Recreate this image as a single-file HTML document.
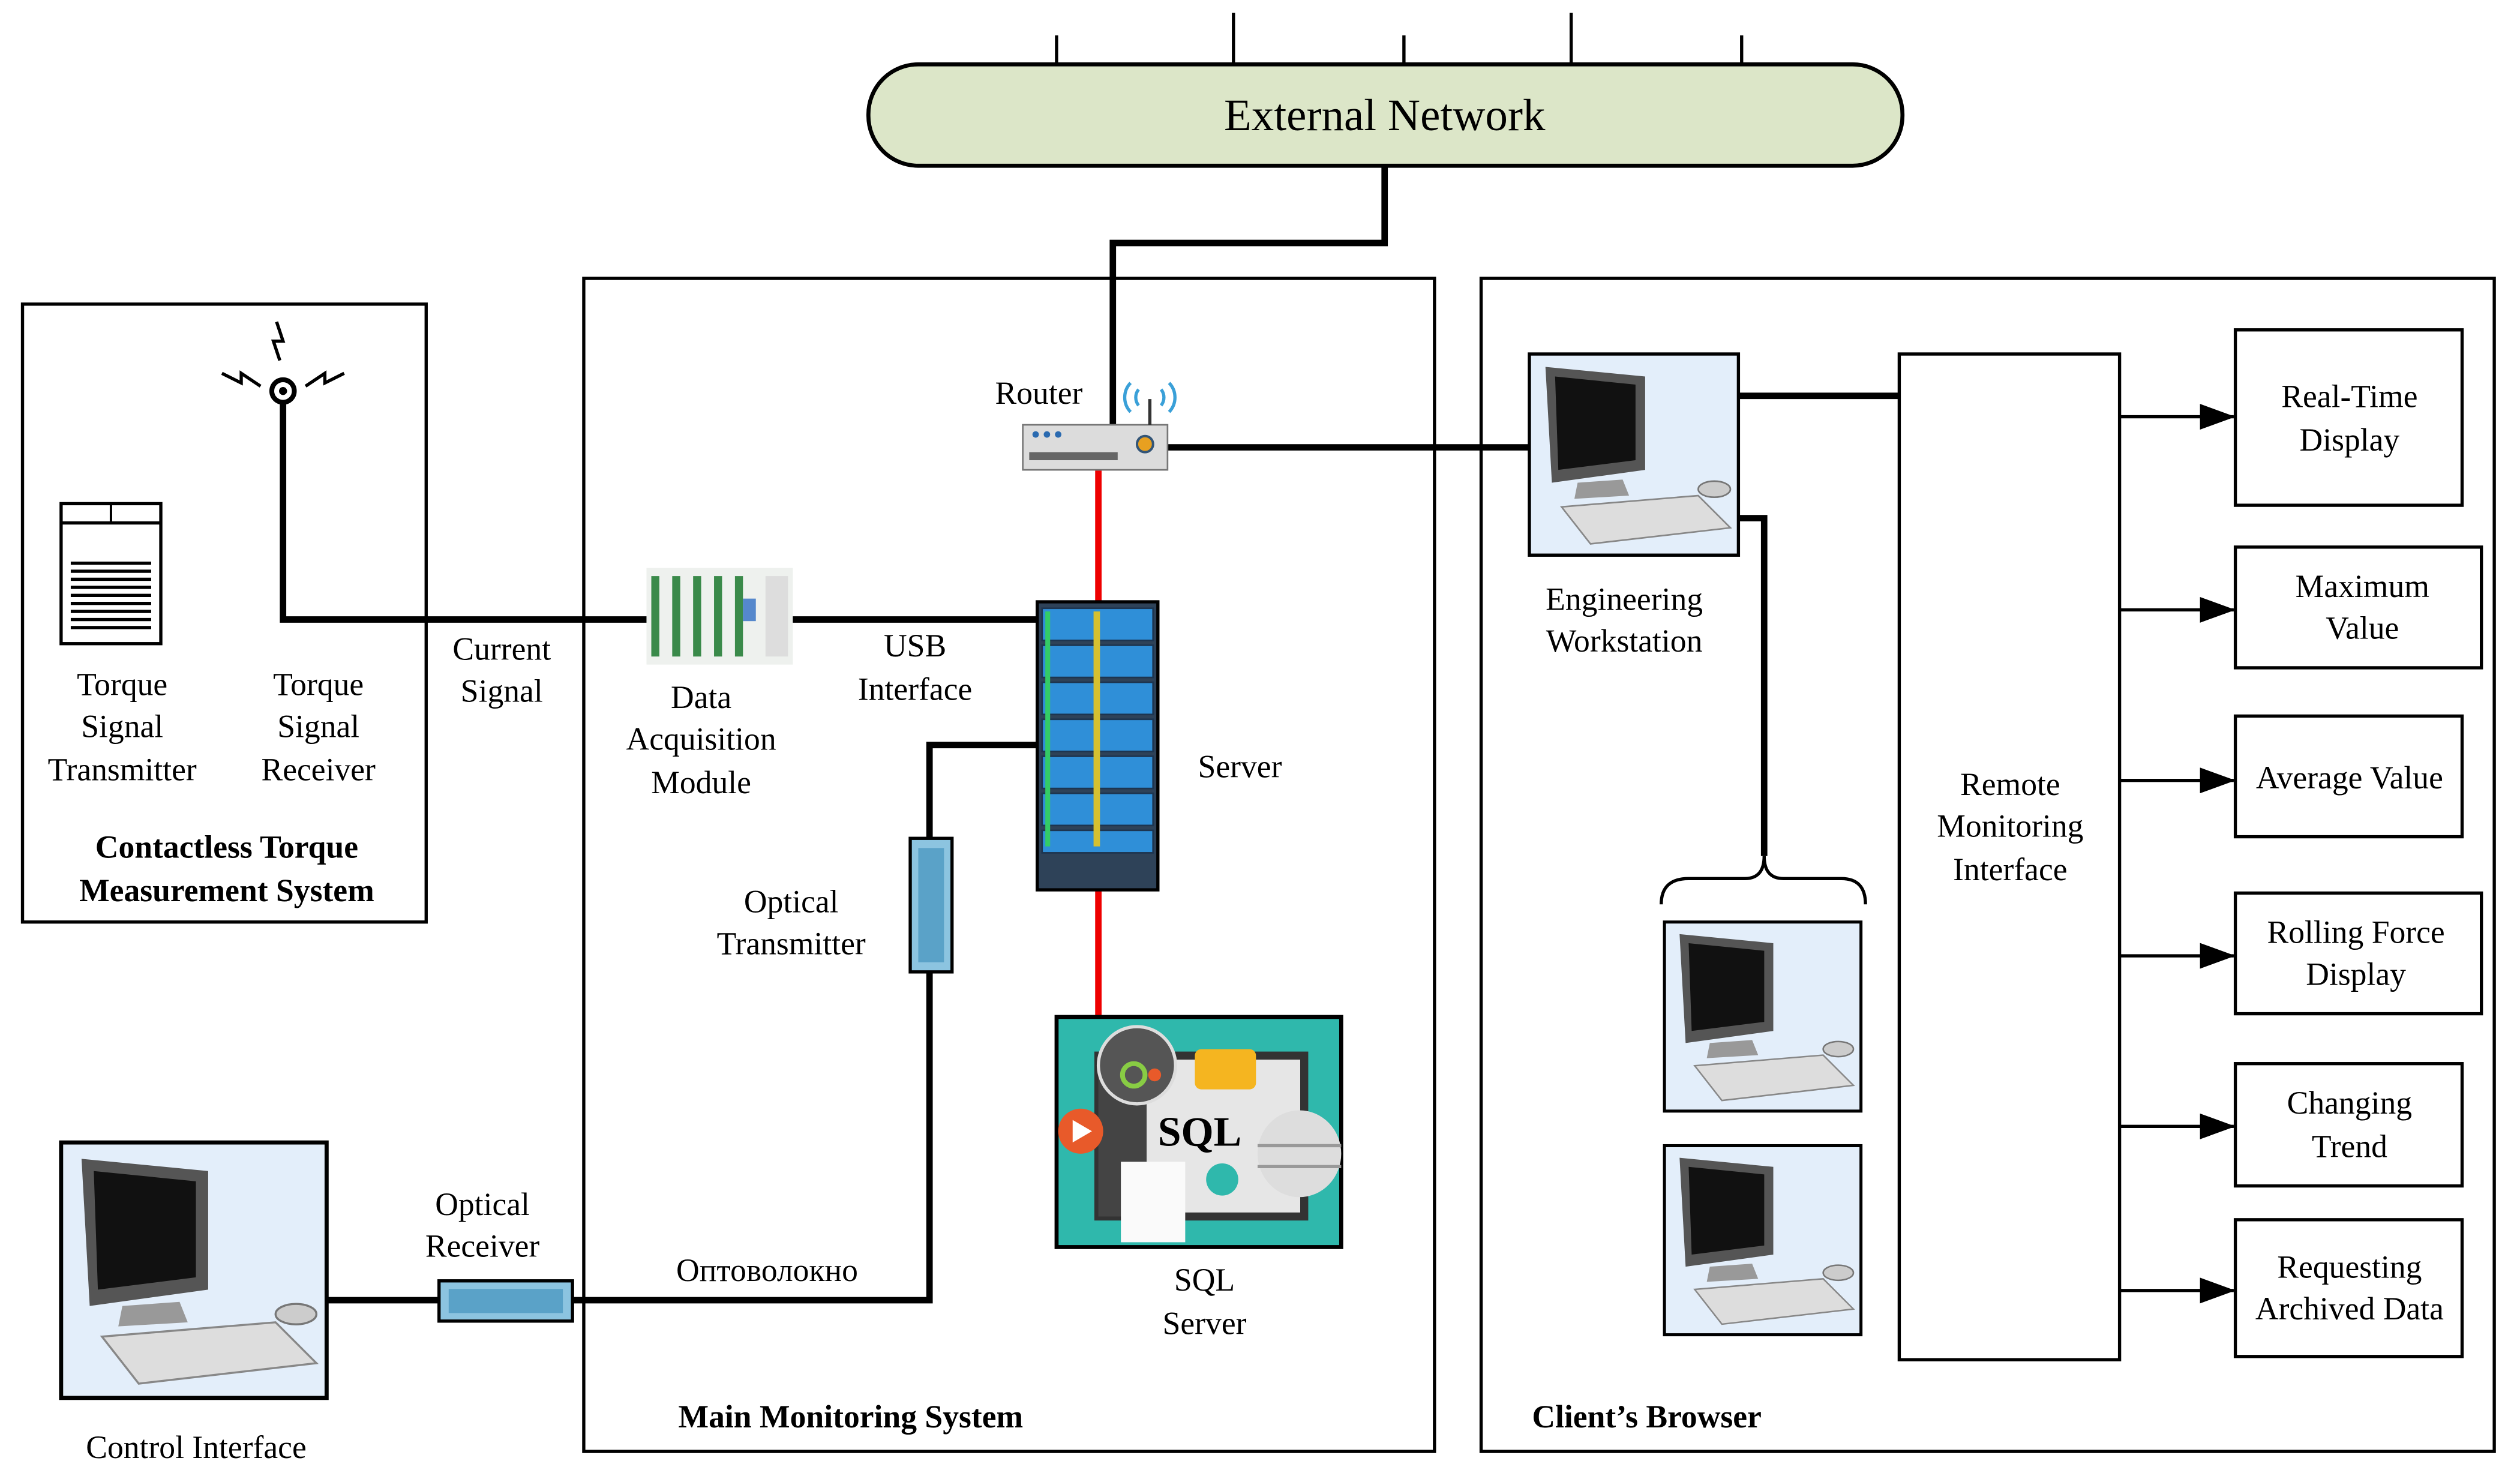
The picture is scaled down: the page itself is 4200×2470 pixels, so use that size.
<!DOCTYPE html>
<html><head><meta charset="utf-8"><style>
html,body{margin:0;padding:0;background:#fff}
svg{display:block}
text{font-family:"Liberation Serif",serif;fill:#000}
</style></head><body>
<svg width="4200" height="2470" viewBox="0 0 1567 921" preserveAspectRatio="none" xmlns="http://www.w3.org/2000/svg">
<defs>
<marker id="ar" markerWidth="22" markerHeight="16" refX="21" refY="8" orient="auto" markerUnits="userSpaceOnUse"><path d="M0,0 L22,8 L0,16 z" fill="#000"/></marker>
<g id="pc">
<rect x="0" y="0" width="130" height="125" fill="#e3eefa" stroke="#000" stroke-width="2"/>
<path d="M10,8 L72,14 L72,72 L14,80 z" fill="#555"/>
<path d="M16,14 L66,19 L66,66 L18,72 z" fill="#111"/>
<path d="M30,80 L58,78 L62,88 L28,90 z" fill="#999"/>
<path d="M20,95 L105,88 L125,108 L38,118 z" fill="#ddd" stroke="#888"/>
<ellipse cx="115" cy="84" rx="10" ry="5" fill="#ccc" stroke="#777"/>
</g>
</defs>

<g stroke="#000" stroke-width="2">
<line x1="657" y1="22" x2="657" y2="40"/><line x1="767" y1="8" x2="767" y2="40"/><line x1="873" y1="22" x2="873" y2="40"/><line x1="977" y1="8" x2="977" y2="40"/><line x1="1083" y1="22" x2="1083" y2="40"/>
</g>
<rect x="540" y="40" width="643" height="63" rx="31" fill="#dce6c8" stroke="#000" stroke-width="2.5"/>
<text x="861" y="81" font-size="28" text-anchor="middle">External Network</text>

<rect x="14" y="189" width="251" height="384" fill="none" stroke="#000" stroke-width="2"/>
<rect x="363" y="173" width="529" height="729" fill="none" stroke="#000" stroke-width="2"/>
<rect x="921" y="173" width="630" height="729" fill="none" stroke="#000" stroke-width="2"/>

<g stroke="#000" stroke-width="4" fill="none">
<polyline points="861,103 861,151 692,151 692,265"/>
<polyline points="176,243 176,385 645,385"/>
<line x1="726" y1="278" x2="951" y2="278"/>
<polyline points="645,463 578,463 578,808 356,808"/>
<line x1="203" y1="808" x2="273" y2="808"/>
<line x1="1081" y1="246" x2="1181" y2="246"/>
<polyline points="1081,322 1097,322 1097,532"/>
</g>
<g stroke="#e00" stroke-width="4"><line x1="683" y1="292" x2="683" y2="375"/><line x1="683" y1="553" x2="683" y2="632"/></g>

<circle cx="176" cy="243" r="7" fill="#fff" stroke="#000" stroke-width="3"/><circle cx="176" cy="243" r="2.5" fill="#000"/>
<g stroke="#000" stroke-width="2" fill="none"><polyline points="172,200 176,212 170,212 174,224"/><polyline points="138,232 150,238 150,232 162,240"/><polyline points="190,240 202,232 202,238 214,232"/></g>

<rect x="38" y="313" width="62" height="87" fill="#fff" stroke="#000" stroke-width="2"/>
<line x1="38" y1="325" x2="100" y2="325" stroke="#000" stroke-width="2"/><line x1="69" y1="313" x2="69" y2="325" stroke="#000" stroke-width="1.5"/>
<g stroke="#000" stroke-width="2"><line x1="44" y1="350" x2="94" y2="350"/><line x1="44" y1="355" x2="94" y2="355"/><line x1="44" y1="360" x2="94" y2="360"/><line x1="44" y1="365" x2="94" y2="365"/><line x1="44" y1="370" x2="94" y2="370"/><line x1="44" y1="375" x2="94" y2="375"/><line x1="44" y1="380" x2="94" y2="380"/><line x1="44" y1="385" x2="94" y2="385"/><line x1="44" y1="390" x2="94" y2="390"/></g>

<g font-size="20" text-anchor="middle">
<text x="76" y="432">Torque</text><text x="76" y="458">Signal</text><text x="76" y="485">Transmitter</text>
<text x="198" y="432">Torque</text><text x="198" y="458">Signal</text><text x="198" y="485">Receiver</text>
<text x="141" y="533" font-weight="bold">Contactless Torque</text><text x="141" y="560" font-weight="bold">Measurement System</text>
<text x="312" y="410">Current</text><text x="312" y="436">Signal</text>
<text x="436" y="440">Data</text><text x="436" y="466">Acquisition</text><text x="436" y="493">Module</text>
<text x="569" y="408">USB</text><text x="569" y="435">Interface</text>
<text x="646" y="251">Router</text>
<text x="771" y="483">Server</text>
<text x="492" y="567">Optical</text><text x="492" y="593">Transmitter</text>
<text x="749" y="802">SQL</text><text x="749" y="829">Server</text>
<text x="300" y="755">Optical</text><text x="300" y="781">Receiver</text>
<text x="477" y="796">Оптоволокно</text>
<text x="122" y="906">Control Interface</text>
<text x="529" y="887" font-weight="bold">Main Monitoring System</text>
<text x="1024" y="887" font-weight="bold">Client’s Browser</text>
<text x="1010" y="379">Engineering</text><text x="1010" y="405">Workstation</text>
<text x="1250" y="494">Remote</text><text x="1250" y="520">Monitoring</text><text x="1250" y="547">Interface</text>
</g>

<rect x="402" y="353" width="91" height="60" fill="#eef1ee"/>
<g fill="#3a8a4a"><rect x="405" y="358" width="5" height="50"/><rect x="418" y="358" width="5" height="50"/><rect x="431" y="358" width="5" height="50"/><rect x="444" y="358" width="5" height="50"/><rect x="457" y="358" width="5" height="50"/></g>
<rect x="462" y="372" width="8" height="14" fill="#58c"/>
<rect x="476" y="358" width="14" height="50" fill="#ddd"/>

<rect x="636" y="264" width="90" height="28" fill="#dcdcdc" stroke="#777"/>
<g fill="#2a6ab0"><circle cx="644" cy="270" r="2"/><circle cx="651" cy="270" r="2"/><circle cx="658" cy="270" r="2"/></g>
<rect x="640" y="281" width="55" height="5" fill="#666"/>
<circle cx="712" cy="276" r="5" fill="#e8a020" stroke="#357" stroke-width="1.5"/>
<line x1="715" y1="264" x2="715" y2="248" stroke="#333" stroke-width="2"/>
<g fill="none" stroke="#3aa0d8" stroke-width="2"><path d="M708,242 a8,8 0 0 0 0,10"/><path d="M722,242 a8,8 0 0 1 0,10"/><path d="M703,238 a13,13 0 0 0 0,18"/><path d="M727,238 a13,13 0 0 1 0,18"/></g>

<rect x="645" y="374" width="75" height="179" fill="#2e4258" stroke="#000" stroke-width="2"/>
<g fill="#2f8fd8" stroke="#1d3550" stroke-width="1">
<rect x="648" y="378" width="69" height="20"/><rect x="648" y="401" width="69" height="20"/><rect x="648" y="424" width="69" height="20"/><rect x="648" y="447" width="69" height="20"/><rect x="648" y="470" width="69" height="20"/><rect x="648" y="493" width="69" height="20"/><rect x="648" y="516" width="69" height="14"/>
</g>
<g fill="#d6c030"><rect x="680" y="380" width="4" height="146"/></g>
<g fill="#3c6"><rect x="650" y="380" width="3" height="146"/></g>

<rect x="657" y="632" width="177" height="143" fill="#2fb8ac" stroke="#000" stroke-width="2.5"/>
<rect x="683" y="656" width="128" height="100" fill="#e6e6e6" stroke="#333" stroke-width="5"/>
<rect x="683" y="656" width="30" height="100" fill="#444"/>
<circle cx="707" cy="662" r="24" fill="#555" stroke="#ddd" stroke-width="2"/>
<circle cx="705" cy="668" r="7" fill="none" stroke="#8c4" stroke-width="3"/><circle cx="718" cy="668" r="4" fill="#e85a2a"/>
<rect x="743" y="652" width="38" height="25" rx="4" fill="#f5b520"/>
<circle cx="672" cy="703" r="14" fill="#e85a2a"/><path d="M667,696 L679,703 L667,710z" fill="#fff"/>
<text x="746" y="712" font-family="Liberation Sans,sans-serif" font-size="26" font-weight="bold" text-anchor="middle">SQL</text>
<rect x="697" y="722" width="40" height="50" fill="#fafafa"/>
<g fill="#ddd"><ellipse cx="808" cy="717" rx="26" ry="27"/></g>
<line x1="782" y1="712" x2="834" y2="712" stroke="#999" stroke-width="2"/><line x1="782" y1="725" x2="834" y2="725" stroke="#999" stroke-width="2"/>
<circle cx="760" cy="733" r="10" fill="#2fb8ac"/>

<rect x="566" y="521" width="26" height="83" fill="#8cc4e0" stroke="#000" stroke-width="2"/>
<rect x="571" y="527" width="16" height="71" fill="#5aa2c8"/>
<rect x="273" y="796" width="83" height="25" fill="#8cc4e0" stroke="#000" stroke-width="2"/>
<rect x="279" y="801" width="71" height="15" fill="#5aa2c8"/>

<use href="#pc" transform="translate(38,710) scale(1.27,1.27)"/>
<use href="#pc" transform="translate(951,220)"/>
<use href="#pc" transform="translate(1035,573) scale(0.94,0.94)"/>
<use href="#pc" transform="translate(1035,712) scale(0.94,0.94)"/>

<path d="M1033,562 Q1033,546 1050,546 L1085,546 Q1097,546 1097,532 Q1097,546 1109,546 L1145,546 Q1160,546 1160,562" fill="none" stroke="#000" stroke-width="2"/>

<rect x="1181" y="220" width="137" height="625" fill="none" stroke="#000" stroke-width="2"/>

<g fill="none" stroke="#000" stroke-width="2">
<rect x="1390" y="205" width="141" height="109"/>
<rect x="1390" y="340" width="153" height="75"/>
<rect x="1390" y="445" width="141" height="75"/>
<rect x="1390" y="555" width="153" height="75"/>
<rect x="1390" y="661" width="141" height="76"/>
<rect x="1390" y="758" width="141" height="85"/>
</g>
<g stroke="#000" stroke-width="2" marker-end="url(#ar)">
<line x1="1318" y1="259" x2="1389" y2="259"/><line x1="1318" y1="379" x2="1389" y2="379"/><line x1="1318" y1="485" x2="1389" y2="485"/><line x1="1318" y1="594" x2="1389" y2="594"/><line x1="1318" y1="700" x2="1389" y2="700"/><line x1="1318" y1="802" x2="1389" y2="802"/>
</g>
<g font-size="20" text-anchor="middle">
<text x="1461" y="253">Real-Time</text><text x="1461" y="280">Display</text>
<text x="1469" y="371">Maximum</text><text x="1469" y="397">Value</text>
<text x="1461" y="490">Average Value</text>
<text x="1465" y="586">Rolling Force</text><text x="1465" y="612">Display</text>
<text x="1461" y="692">Changing</text><text x="1461" y="719">Trend</text>
<text x="1461" y="794">Requesting</text><text x="1461" y="820">Archived Data</text>
</g>
</svg>
</body></html>
